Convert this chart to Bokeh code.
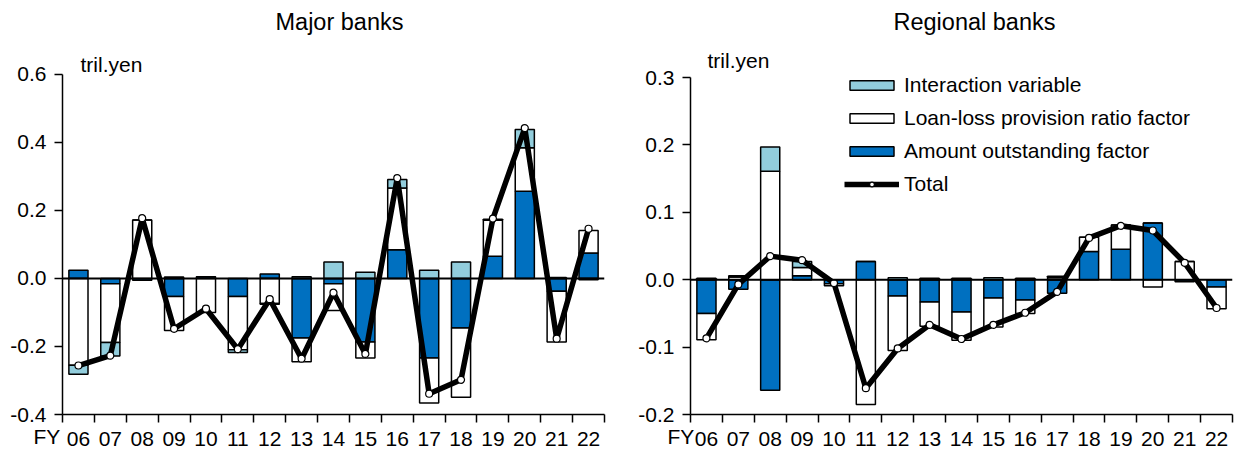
from bokeh.plotting import figure
from bokeh.layouts import row
from bokeh.models import (FixedTicker, PrintfTickFormatter, Span, Title, Label, Legend, LegendItem, Range1d)
from bokeh.embed import file_html
from bokeh.resources import INLINE

years = ["06", "07", "08", "09", "10", "11", "12", "13", "14", "15", "16", "17", "18", "19", "20", "21", "22"]

major_amount = [0.024, -0.016, -0.005, -0.053, 0.005, -0.053, 0.013, -0.175, -0.016, -0.187, 0.084, -0.234, -0.146, 0.065, 0.256, -0.038, 0.075]
major_loanloss = [-0.255, -0.172, 0.172, -0.100, -0.100, -0.157, -0.074, -0.070, -0.078, -0.047, 0.182, -0.132, -0.203, 0.106, 0.128, -0.149, 0.066]
major_interaction = [-0.027, -0.040, 0.0, 0.004, 0.0, -0.008, -0.002, 0.005, 0.048, 0.018, 0.025, 0.024, 0.048, 0.003, 0.054, 0.003, -0.004]
major_total = [-0.256, -0.227, 0.177, -0.148, -0.089, -0.208, -0.061, -0.236, -0.042, -0.222, 0.295, -0.339, -0.298, 0.176, 0.442, -0.177, 0.146]

regional_amount = [-0.050, -0.014, -0.164, 0.006, -0.006, 0.027, -0.024, -0.033, -0.048, -0.027, -0.030, -0.020, 0.042, 0.045, 0.084, -0.003, -0.011]
regional_loanloss = [-0.039, 0.004, 0.161, 0.012, -0.003, -0.185, -0.081, -0.036, -0.042, -0.043, -0.020, 0.003, 0.021, 0.036, -0.011, 0.027, -0.032]
regional_interaction = [0.002, 0.002, 0.036, 0.009, 0.0, 0.0, 0.003, 0.002, 0.002, 0.003, 0.002, 0.002, 0.0, 0.0, 0.0, 0.0, 0.0]
regional_total = [-0.087, -0.007, 0.035, 0.029, -0.005, -0.161, -0.102, -0.067, -0.088, -0.067, -0.049, -0.018, 0.062, 0.080, 0.073, 0.025, -0.042]

series_colors = ["#0070C0", "#FFFFFF", "#92CDDC"]

FONT = "Liberation Sans"
FS = "21px"
TFS = "23.5px"
TOP = 4  # frame top in pixels (room for titles inside the frame)


def stack(series_list):
    n = len(series_list[0])
    pos = [0.0] * n
    neg = [0.0] * n
    out = []
    for s in series_list:
        bottoms, tops = [], []
        for i, v in enumerate(s):
            if v >= 0:
                bottoms.append(pos[i]); tops.append(pos[i] + v); pos[i] += v
            else:
                bottoms.append(neg[i]); tops.append(neg[i] + v); neg[i] += v
        out.append((bottoms, tops))
    return out


def make_panel(title, amount, loanloss, inter, total, ymin, ymax, yticks,
               width, height, bl, br, axis_top, axis_bottom, fy_off,
               title_xoff, title_base, unit_xoff, unit_base):
    ppu = (axis_bottom - axis_top) / (ymax - ymin)
    yend = ymax + (axis_top - TOP) / ppu
    p = figure(width=width, height=height, output_backend="svg", toolbar_location=None,
               x_range=Range1d(-0.5, len(years) - 0.5), y_range=Range1d(ymin, yend),
               min_border_left=bl, min_border_right=br, min_border_top=TOP,
               min_border_bottom=height - axis_bottom)
    p.title.visible = False
    p.outline_line_color = None
    p.xgrid.visible = False
    p.ygrid.visible = False
    x = list(range(len(years)))
    stacks = stack([amount, loanloss, inter])
    rends = []
    for (b, t), c in zip(stacks, series_colors):
        r = p.vbar(x=x, bottom=b, top=t, width=0.6, fill_color=c, line_color="black", line_width=1.5)
        rends.append(r)
    p.add_layout(Span(location=0, dimension="width", line_color="black", line_width=2))
    lr = p.line(x, total, line_color="black", line_width=5.5, line_join="round")
    cr = p.scatter(x, total, size=7, fill_color="white", line_color="black", line_width=1.2)

    xa = p.xaxis[0]
    xa.ticker = FixedTicker(ticks=x, minor_ticks=[i - 0.5 for i in range(len(years) + 1)])
    xa.major_label_overrides = {i: y for i, y in enumerate(years)}
    xa.major_tick_out = 0
    xa.major_tick_in = 0
    xa.minor_tick_out = 8
    xa.minor_tick_in = 0
    xa.minor_tick_line_color = "black"
    xa.minor_tick_line_width = 1.5
    xa.major_label_standoff = 9
    ya = p.yaxis[0]
    ya.ticker = FixedTicker(ticks=yticks)
    ya.formatter = PrintfTickFormatter(format="%.1f")
    ya.bounds = (ymin, ymax)
    ya.major_tick_out = 8
    ya.major_tick_in = 0
    ya.minor_tick_out = 0
    ya.minor_tick_in = 0
    ya.major_label_standoff = 8
    for ax in (xa, ya):
        ax.axis_line_color = "black"
        ax.axis_line_width = 1.5
        ax.major_tick_line_color = "black"
        ax.major_tick_line_width = 1.5
        ax.major_label_text_font = FONT
        ax.major_label_text_font_size = FS
        ax.major_label_text_color = "black"

    p.add_layout(Label(x=-0.5, y=ymax, x_offset=title_xoff, y_offset=axis_top - title_base,
                       text=title, text_font=FONT, text_font_size=TFS, text_color="black",
                       text_align="left", text_baseline="alphabetic"))
    p.add_layout(Label(x=-0.5, y=ymax, x_offset=unit_xoff, y_offset=axis_top - unit_base,
                       text="tril.yen", text_font=FONT, text_font_size=FS, text_color="black",
                       text_align="left", text_baseline="alphabetic"))
    p.add_layout(Title(text="FY", align="left", offset=fy_off, standoff=-48, vertical_align="top",
                       text_font=FONT, text_font_size=FS, text_font_style="normal",
                       text_color="black"), "below")
    return p, rends, lr, cr


p1, _, _, _ = make_panel("Major banks", major_amount, major_loanloss, major_interaction, major_total,
                         -0.4, 0.6, [-0.4, -0.2, 0.0, 0.2, 0.4, 0.6],
                         620, 456, 62, 16, 74, 415, -29, 213, 21.5, 18, 64)
p2, rends, lr, cr = make_panel("Regional banks", regional_amount, regional_loanloss, regional_interaction,
                               regional_total, -0.2, 0.3, [-0.2, -0.1, 0.0, 0.1, 0.2, 0.3],
                               621, 456, 70, 9, 77, 414, -23, 203, 21.5, 17, 60)

legend = Legend(items=[
    LegendItem(label="Interaction variable", renderers=[rends[2]]),
    LegendItem(label="Loan-loss provision ratio factor", renderers=[rends[1]]),
    LegendItem(label="Amount outstanding factor", renderers=[rends[0]]),
    LegendItem(label="Total", renderers=[lr, cr]),
], location=(154, 218))
legend.background_fill_alpha = 0
legend.border_line_color = None
legend.padding = 0
legend.margin = 0
legend.spacing = 9
legend.glyph_width = 55
legend.glyph_height = 12
legend.label_height = 24
legend.label_standoff = 5
legend.label_text_font = FONT
legend.label_text_font_size = FS
legend.label_text_color = "black"
p2.add_layout(legend)

layout = row(p1, p2)
open("out.html", "w").write(file_html(layout, INLINE))
